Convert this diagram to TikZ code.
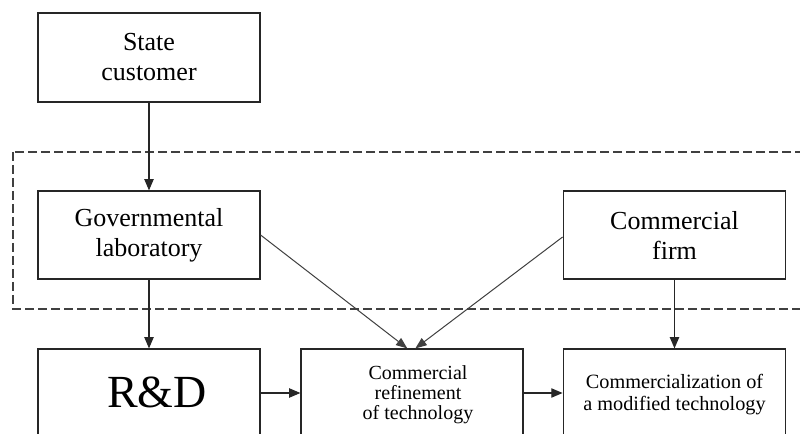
\documentclass[tikz,border=0pt]{standalone}
\usepackage{fontspec}
\setmainfont{Liberation Serif}
\usetikzlibrary{arrows.meta}
\begin{document}
\begin{tikzpicture}[x=0.75pt,y=-0.75pt,
  box/.style={draw=black!85, line width=0.85pt, minimum width=166.5pt,
    minimum height=66pt, inner sep=0pt, align=center},
  bigtext/.style={font=\fontsize{19.5pt}{22.5pt}\selectfont},
  flow/.style={draw=black!85, line width=0.85pt,
    -{Triangle[length=8.5pt,width=7pt]}},
  slant/.style={draw=black!75, line width=0.75pt,
    -{Triangle[length=8.5pt,width=6.5pt]}},
  zone/.style={draw=black!75, line width=0.8pt, dash pattern=on 6.75pt off 3pt}
]
\useasboundingbox (0,0) rectangle (800,434);
\clip (0,0) rectangle (800,434);
\fill[white] (0,0) rectangle (800,434);

% dashed zone around the laboratory and the firm
\draw[zone] (13,152) rectangle (830,309);

% top row
\node[box, bigtext, minimum height=66.75pt] (state) at (149,57.5) {State\\customer};
\node[box, bigtext] (gov) at (149,235) {Governmental\\laboratory};
\node[box, bigtext, minimum width=167pt] (firm) at (674.5,235) {Commercial\\firm};

% bottom row (boxes run past the lower edge)
\node[box] (rd) at (149,393) {};
\node[box] (ref) at (412,393) {};
\node[box, minimum width=167pt] (comm) at (674.5,393) {};

\node[font=\fontsize{34.5pt}{36pt}\selectfont, inner sep=0pt] (rdtext) at (157,392) {R\&D};
\node[align=center, inner sep=0pt, font=\fontsize{15pt}{15pt}\selectfont] (reftext) at (418,395)
  {Commercial\\refinement\\of technology};
\node[align=center, inner sep=0pt, font=\fontsize{15.2pt}{16.5pt}\selectfont] (commtext) at (674.5,395)
  {Commercialization of\\a modified technology};

% connectors
\draw[flow] (state.south) -- (gov.north);
\draw[flow] (gov.south) -- (rd.north);
\draw[flow] (firm.south) -- (comm.north);
\draw[flow] (rd.east) -- (ref.west);
\draw[flow] (ref.east) -- (comm.west);
\draw[slant] (gov.east) -- ([xshift=-3.5pt]ref.north);
\draw[slant] ([yshift=-1.5pt]firm.west) -- ([xshift=2.5pt]ref.north);
\end{tikzpicture}
\end{document}
